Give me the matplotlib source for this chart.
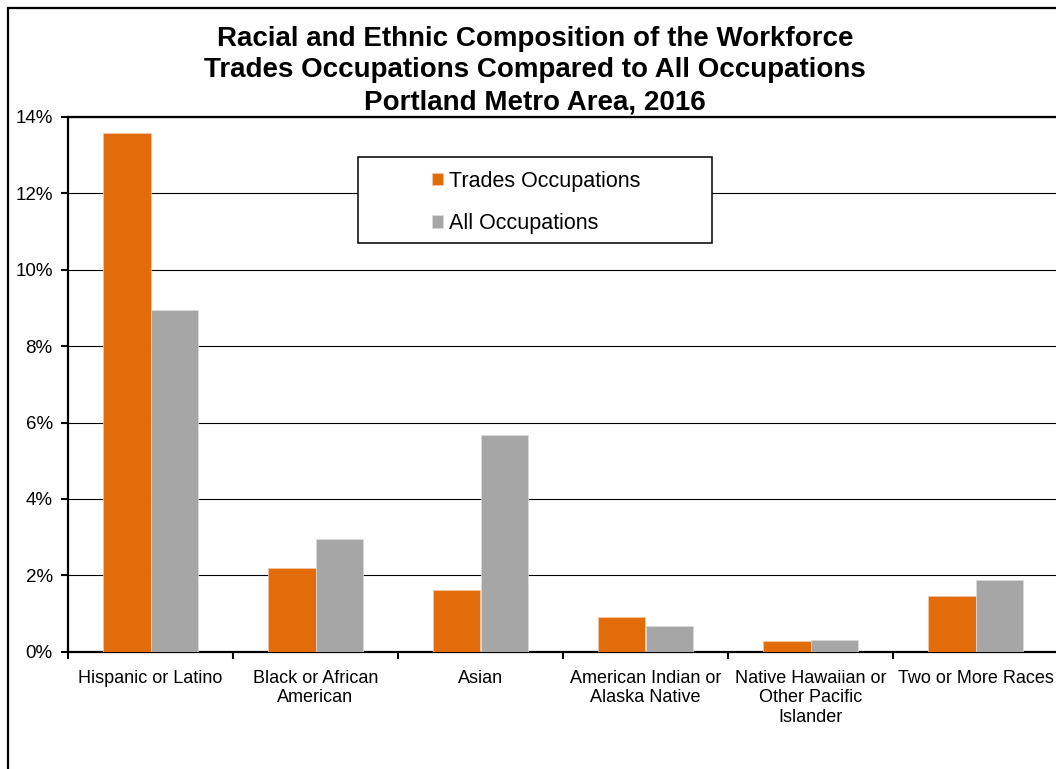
import numpy as np
import matplotlib
matplotlib.use("Agg")
import matplotlib.pyplot as plt
from matplotlib.patches import Rectangle
from matplotlib.ticker import PercentFormatter

plt.rcParams['font.family'] = ['Liberation Sans', 'DejaVu Sans']

categories = ["Hispanic or Latino", "Black or African\nAmerican", "Asian",
              "American Indian or\nAlaska Native", "Native Hawaiian or\nOther Pacific\nIslander",
              "Two or More Races"]
trades = [13.57, 2.18, 1.61, 0.90, 0.29, 1.47]
all_occ = [8.95, 2.94, 5.68, 0.67, 0.30, 1.88]
title_lines = ["Racial and Ethnic Composition of the Workforce",
               "Trades Occupations Compared to All Occupations",
               "Portland Metro Area, 2016"]

W, H = 1056, 769
fig = plt.figure(figsize=(W / 100, H / 100), dpi=100)
fig.patch.set_facecolor('white')

# axes in pixel geometry (right edge runs just past the picture, as in the reference)
x0, x1, ytop, ybot = 68, 1058, 116.9, 651.7
ax = fig.add_axes([x0 / W, 1 - ybot / H, (x1 - x0) / W, (ybot - ytop) / H])

x = np.arange(len(categories))
w = 0.285
ax.bar(x - w / 2, trades, w, color='#E36C0A', edgecolor='#f3c9a8', linewidth=0.5,
       label='Trades Occupations', zorder=3)
ax.bar(x + w / 2, all_occ, w, color='#A6A6A6', edgecolor='#dcdcdc', linewidth=0.5,
       label='All Occupations', zorder=3)

ax.set_xlim(-0.5, len(categories) - 0.5)
ax.set_ylim(0, 14)
ax.set_yticks(np.arange(0, 15, 2))
ax.yaxis.set_major_formatter(PercentFormatter(decimals=0))
ax.grid(axis='y', color='black', linewidth=0.8, zorder=0)
ax.set_axisbelow(True)

ax.set_xticks(np.arange(-0.5, len(categories), 1))
ax.set_xticklabels([])
ax.set_xticks(x, categories, minor=True)
ax.tick_params(axis='x', which='major', length=5, width=1.5, direction='out')
ax.tick_params(axis='x', which='minor', length=0, pad=13, labelsize=13)
ax.tick_params(axis='y', length=5, width=1.5, pad=6, labelsize=13.5)

for side in ['left', 'bottom', 'top']:
    ax.spines[side].set_linewidth(1.6)
ax.spines['right'].set_visible(False)

# titles, one per line
for txt, yb in zip(title_lines, [46, 77, 109]):
    fig.text(535 / W, 1 - yb / H, txt, ha='center', va='baseline',
             fontsize=20, fontweight='bold')

# legend box
fig.patches.append(Rectangle((358.3 / W, 1 - 242.7 / H), 354 / W, 86 / H,
                             transform=fig.transFigure, facecolor='white',
                             edgecolor='black', linewidth=1.1, zorder=4))
fig.legend(loc='center left', bbox_to_anchor=(432 / W, 1 - 202.5 / H),
           frameon=False, fontsize=15.5, handlelength=0.52, handleheight=0.52,
           handletextpad=0.25, labelspacing=1.0, borderpad=0, borderaxespad=0)

# outer chart frame
fig.patches.append(Rectangle((8 / W, -0.1), 1.2, 1.1 - 8 / H, transform=fig.transFigure,
                             fill=False, edgecolor='black', linewidth=1.6, zorder=6))

fig.savefig('out.png', dpi=100)
